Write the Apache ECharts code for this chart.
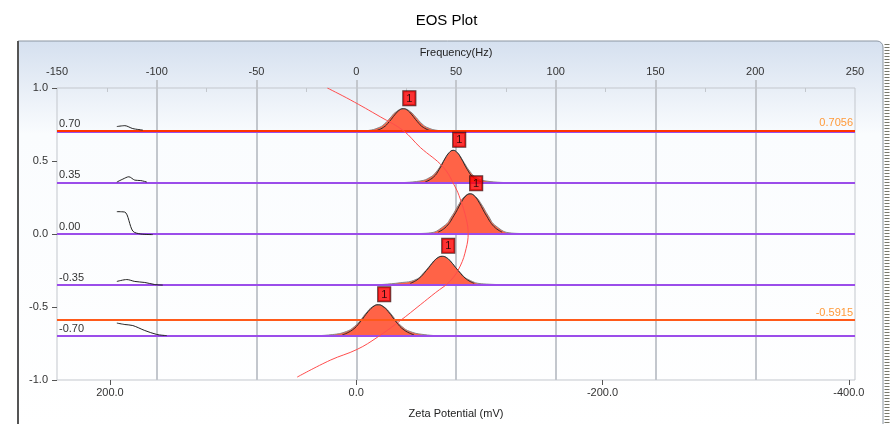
<!DOCTYPE html>
<html><head><meta charset="utf-8">
<script src="https://cdn.jsdelivr.net/npm/echarts@6/dist/echarts.min.js"></script>
<style>html,body{margin:0;padding:0;background:#fff}#c{width:893px;height:424px}</style>
</head><body><div id="c"></div>
<script>
const FONT = '"Liberation Sans", Arial, sans-serif';
const freqMin = -150, freqMax = 250;
const freqMajorTicks = [-100, -50, 0, 50, 100, 150, 200];
const freqMinorTicks = [-125, -75, -25, 25, 75, 125, 175, 225];
const zetaMin = -405, zetaMax = 243;
const zetaTicks = [200, 0, -200, -400];
const baselines = [0.70, 0.35, 0.00, -0.35, -0.70];
const baselineLabels = ['0.70', '0.35', '0.00', '-0.35', '-0.70'];
const markerLines = [0.7056, -0.5915];
const markerLabels = ['0.7056', '-0.5915'];
const markerColors = ['#ff3300', '#ff5a1a'];
const peakCenters = [23.6, 48.6, 57.1, 43.1, 11.0];

// measured peak profiles (height above baseline)
const peakAFreq = [0, 6, 11, 14, 17, 20, 23.6, 27, 30, 33, 36, 41, 47];
const peakAData = [0.003, 0.009, 0.027, 0.052, 0.095, 0.137, 0.158, 0.139, 0.098, 0.054, 0.027, 0.009, 0.003];
const peakBFreq = [22, 32, 37, 40, 43, 46, 48.6, 51, 54, 57, 60, 65, 76];
const peakBData = [0.002, 0.013, 0.038, 0.074, 0.134, 0.196, 0.223, 0.201, 0.140, 0.078, 0.038, 0.013, 0.002];
const peakCFreq = [30, 36, 44, 48, 51, 54, 57.1, 60, 63, 66, 70, 78, 84];
const peakCData = [0.003, 0.006, 0.055, 0.124, 0.193, 0.253, 0.275, 0.253, 0.198, 0.129, 0.055, 0.006, 0.003];
const peakDFreq = [10, 22, 30, 34, 37, 40, 43.1, 46, 49, 52, 56, 64, 78];
const peakDData = [0.002, 0.016, 0.039, 0.087, 0.134, 0.179, 0.197, 0.179, 0.134, 0.087, 0.039, 0.008, 0.002];
const peakEFreq = [-23, -12, -5, -1, 2, 5, 8, 11, 14, 17, 20, 23, 27, 34, 43];
const peakEData = [0.002, 0.011, 0.032, 0.065, 0.108, 0.159, 0.200, 0.215, 0.200, 0.159, 0.108, 0.065, 0.032, 0.011, 0.002];

// fitted curves (height above baseline)
const fitAFreq = [9.6, 13.6, 16.6, 19.6, 21.6, 23.6, 25.6, 27.6, 30.6, 33.6, 37.6];
const fitAData = [0.006, 0.030, 0.070, 0.121, 0.148, 0.158, 0.148, 0.121, 0.070, 0.030, 0.006];
const fitBFreq = [34.6, 38.6, 41.6, 44.6, 46.6, 48.6, 50.6, 52.6, 55.6, 58.6, 62.6];
const fitBData = [0.007, 0.038, 0.093, 0.168, 0.208, 0.223, 0.208, 0.168, 0.093, 0.038, 0.007];
const fitCFreq = [41.1, 45.1, 49.1, 53.1, 55.1, 57.1, 59.1, 61.1, 65.1, 69.1, 73.1];
const fitCData = [0.013, 0.050, 0.129, 0.227, 0.262, 0.275, 0.262, 0.227, 0.129, 0.050, 0.013];
const fitDFreq = [27.1, 31.1, 35.1, 39.1, 41.1, 43.1, 45.1, 47.1, 51.1, 55.1, 59.1];
const fitDData = [0.012, 0.042, 0.099, 0.166, 0.189, 0.197, 0.189, 0.166, 0.099, 0.042, 0.012];
const fitEFreq = [-7, -2, 2, 6, 9, 11, 13, 16, 20, 24, 29];
const fitEData = [0.009, 0.042, 0.098, 0.169, 0.207, 0.215, 0.207, 0.169, 0.098, 0.042, 0.009];

// small traces at the left (absolute values)
const traceA = [[-120, 0.736], [-116, 0.742], [-112, 0.722], [-107, 0.712]];
const traceB = [[-120, 0.356], [-117, 0.376], [-114, 0.392], [-111, 0.369], [-108, 0.366], [-105, 0.356]];
const traceC = [[-120, 0.153], [-116, 0.150], [-112, 0.020], [-108, 0.000], [-102, -0.004]];
const traceD = [[-120, -0.325], [-115, -0.312], [-111, -0.325], [-106, -0.332], [-101, -0.346], [-97, -0.350]];
const traceE = [[-120, -0.610], [-116, -0.620], [-112, -0.627], [-106, -0.661], [-100, -0.688], [-95, -0.696]];

// EOS fit curve (frequency, field)
const eosCurve = [[-14.5, 1.0], [-3.0, 0.919], [12.0, 0.803], [23.6, 0.708], [32.1, 0.593], [43.6, 0.458],
  [49.6, 0.322], [52.1, 0.241], [55.1, 0.105], [56.1, 0.003], [55.1, -0.098], [52.1, -0.220], [47.1, -0.322],
  [39.6, -0.403], [32.1, -0.485], [22.1, -0.593], [10.5, -0.708], [0.5, -0.790], [-13.0, -0.864], [-29.6, -0.980]];

const peaks = [
  {f: peakAFreq, h: peakAData, ff: fitAFreq, fh: fitAData},
  {f: peakBFreq, h: peakBData, ff: fitBFreq, fh: fitBData},
  {f: peakCFreq, h: peakCData, ff: fitCFreq, fh: fitCData},
  {f: peakDFreq, h: peakDData, ff: fitDFreq, fh: fitDData},
  {f: peakEFreq, h: peakEData, ff: fitEFreq, fh: fitEData}
];

const series = [];
peaks.forEach((p, i) => {
  const base = baselines[i];
  series.push({
    type: 'line', xAxisIndex: 0, yAxisIndex: 0, smooth: true, symbol: 'none', silent: true, z: 2,
    data: p.f.map((f, j) => [f, base + p.h[j]]),
    lineStyle: {color: '#888', width: 1},
    areaStyle: {color: '#ff6347', opacity: 1, origin: base}
  });
  series.push({
    type: 'line', xAxisIndex: 0, yAxisIndex: 0, smooth: true, symbol: 'none', silent: true, z: 3,
    data: p.ff.map((f, j) => [f, base + p.fh[j]]),
    lineStyle: {color: '#2a2a2a', width: 1}
  });
});

const mlData = [];
baselines.forEach((b, i) => mlData.push({
  yAxis: b, lineStyle: {color: '#9b4dea', width: 2, type: 'solid'},
  label: {show: true, position: 'insideStartTop', distance: 2, formatter: baselineLabels[i], color: '#333', fontSize: 11, fontFamily: FONT}
}));
markerLines.forEach((m, i) => mlData.push({
  yAxis: m, lineStyle: {color: markerColors[i], width: 2, type: 'solid'},
  label: {show: true, position: 'insideEndTop', distance: 2, formatter: markerLabels[i], color: '#ff9a3a', fontSize: 11, fontFamily: FONT}
}));
series.push({
  type: 'line', xAxisIndex: 0, yAxisIndex: 0, symbol: 'none', z: 4, silent: true,
  data: [[freqMin, baselines[0]]], lineStyle: {width: 0},
  markLine: {silent: true, symbol: ['none', 'none'], animation: false, data: mlData}
});

[traceA, traceB, traceC, traceD, traceE].forEach(t => series.push({
  type: 'line', xAxisIndex: 0, yAxisIndex: 0, smooth: 0.3, symbol: 'none', silent: true, z: 5,
  data: t, lineStyle: {color: '#222', width: 1}
}));

series.push({
  type: 'line', xAxisIndex: 0, yAxisIndex: 0, smooth: 0.4, symbol: 'none', silent: true, z: 6,
  data: eosCurve, lineStyle: {color: '#ff4d4d', width: 1}
});

series.push({
  type: 'scatter', xAxisIndex: 0, yAxisIndex: 0, symbolSize: 1, silent: true, z: 7,
  itemStyle: {color: 'rgba(0,0,0,0)'},
  data: peakCenters.map((c, i) => [c, baselines[i] + Math.max(...peaks[i].h)]),
  label: {show: true, formatter: '1', position: 'top', distance: 3, offset: [6, 0],
    backgroundColor: '#ff0000', borderColor: '#3a0a0a', borderWidth: 1, padding: [2, 3, 1, 3],
    color: '#000', fontSize: 11, fontFamily: FONT}
});

const chart = echarts.init(document.getElementById('c'), null, {renderer: 'canvas'});
chart.setOption({
  animation: false,
  title: {text: 'EOS Plot', left: 'center', top: 8, textStyle: {fontSize: 15, fontWeight: 'normal', color: '#000', fontFamily: FONT}},
  graphic: [
    {type: 'rect', z: -10, silent: true, shape: {x: 18, y: 41, width: 865, height: 390, r: [0, 6, 0, 0]},
      style: {fill: new echarts.graphic.LinearGradient(0, 0, 0, 1, [
        {offset: 0, color: '#d5e0ef'}, {offset: 0.24, color: '#fafcfe'}, {offset: 1, color: '#ffffff'}]),
        stroke: '#8c96a2', lineWidth: 1}},
    {type: 'line', z: -9, silent: true, shape: {x1: 18, y1: 41, x2: 18, y2: 424}, style: {stroke: '#555', lineWidth: 2}},
    {type: 'line', z: -9, silent: true, shape: {x1: 887, y1: 44, x2: 887, y2: 424}, style: {stroke: '#77776a', lineWidth: 5, lineDash: [1, 2]}}
  ],
  grid: {left: 57, right: 38, top: 88, bottom: 41, show: true, borderColor: '#c3c7cd', borderWidth: 1, backgroundColor: 'rgba(0,0,0,0)'},
  xAxis: [
    {type: 'value', position: 'top', min: freqMin, max: freqMax, interval: 50,
      axisLine: {show: false, onZero: false},
      axisTick: {show: true, length: 8, customValues: freqMajorTicks, lineStyle: {color: '#c3c7cd', width: 2}},
      axisLabel: {margin: 11, color: '#333', fontSize: 11, fontFamily: FONT},
      splitLine: {show: true, lineStyle: {color: '#c3c7cd', width: 2}},
      name: 'Frequency(Hz)', nameLocation: 'middle', nameGap: 30,
      nameTextStyle: {color: '#222', fontSize: 11, fontFamily: FONT}},
    {type: 'value', position: 'top', min: freqMin, max: freqMax, interval: 25,
      axisLine: {show: false, onZero: false}, axisLabel: {show: false}, splitLine: {show: false},
      axisTick: {show: true, inside: true, length: 4, customValues: freqMinorTicks, lineStyle: {color: '#c3c7cd', width: 1}}},
    {type: 'value', position: 'bottom', min: zetaMin, max: zetaMax, inverse: true,
      axisLine: {show: false, onZero: false}, splitLine: {show: false},
      axisTick: {show: true, length: 5, customValues: zetaTicks, lineStyle: {color: '#555'}},
      axisLabel: {customValues: zetaTicks, formatter: v => v.toFixed(1), margin: 7, color: '#333', fontSize: 11, fontFamily: FONT},
      name: 'Zeta Potential (mV)', nameLocation: 'middle', nameGap: 28,
      nameTextStyle: {color: '#222', fontSize: 11, fontFamily: FONT}}
  ],
  yAxis: {type: 'value', position: 'left', min: -1, max: 1, interval: 0.5,
    axisLine: {show: false, onZero: false}, splitLine: {show: false},
    axisTick: {show: true, length: 5, lineStyle: {color: '#555'}},
    axisLabel: {formatter: v => v.toFixed(1), margin: 9, color: '#333', fontSize: 11, fontFamily: FONT}},
  series: series
});
</script></body></html>
